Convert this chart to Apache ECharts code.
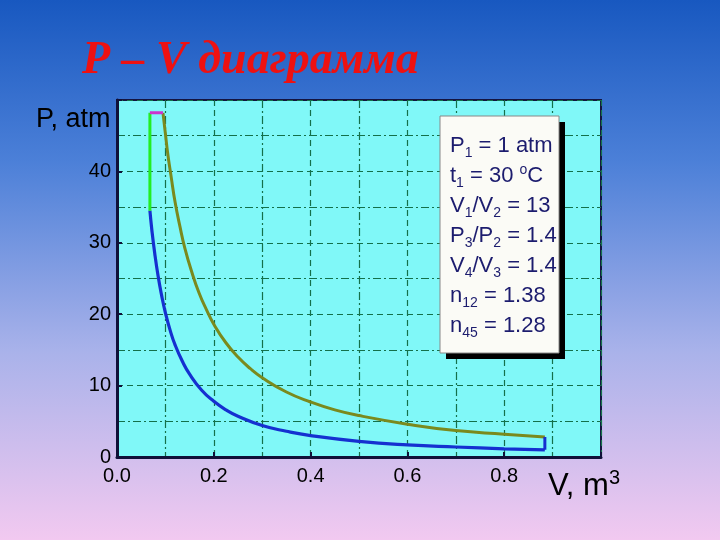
<!DOCTYPE html>
<html><head><meta charset="utf-8">
<script src="https://cdn.jsdelivr.net/npm/echarts@6/dist/echarts.min.js"></script>
<style>html,body{margin:0;padding:0;}#c{width:720px;height:540px;}</style>
</head><body><div id="c"></div>
<script>
// Data
const blueV = [0.884, 0.8, 0.7, 0.6, 0.5, 0.4, 0.35, 0.3, 0.25, 0.225, 0.2, 0.175, 0.15, 0.135, 0.12, 0.11, 0.1, 0.092, 0.085, 0.078, 0.072, 0.068];
const blueP = [1.0, 1.15, 1.4, 1.7, 2.2, 3.0, 3.6, 4.4, 5.7, 6.6, 7.8, 9.35, 11.6, 13.4, 15.7, 17.7, 20.2, 22.7, 25.3, 28.5, 31.8, 34.5];
const closeV = [0.884, 0.884];
const closeP = [2.8, 1.0];
const greenV = [0.068, 0.068];
const greenP = [34.5, 48.2];
const magentaV = [0.068, 0.095];
const magentaP = [48.2, 48.2];
const oliveV = [0.095, 0.1, 0.105, 0.112, 0.12, 0.13, 0.14, 0.155, 0.17, 0.185, 0.2, 0.225, 0.25, 0.275, 0.3, 0.35, 0.4, 0.45, 0.5, 0.6, 0.7, 0.8, 0.884];
const oliveP = [48.2, 45.3, 42.4, 39.2, 35.7, 32.3, 29.3, 25.8, 22.9, 20.6, 18.6, 16.0, 14.0, 12.4, 11.1, 9.1, 7.7, 6.6, 5.8, 4.6, 3.7, 3.2, 2.8];
const xTicks = ['0.0', '0.2', '0.4', '0.6', '0.8'];
const yTicks = ['0', '10', '20', '30', '40'];

const zip = (a, b) => a.map((v, i) => [v, b[i]]);
const chart = echarts.init(document.getElementById('c'));
const txt = '#1c1c6e';
const F = '"Liberation Sans", Arial, sans-serif';
const rich = {
  a: {fontSize: 22, fontFamily: F, fill: txt, lineHeight: 30, fontWeight: 'normal'},
  s: {fontSize: 14, fontFamily: F, fill: txt, lineHeight: 30, fontWeight: 'normal', padding: [14, 0, 0, 0]},
  u: {fontSize: 14, fontFamily: F, fill: txt, lineHeight: 30, fontWeight: 'normal', padding: [0, 0, 12, 0]}
};
const boxText = [
  '{a|P}{s|1}{a| = 1 atm}',
  '{a|t}{s|1}{a| = 30 }{u|o}{a|C}',
  '{a|V}{s|1}{a|/V}{s|2}{a| = 13}',
  '{a|P}{s|3}{a|/P}{s|2}{a| = 1.4}',
  '{a|V}{s|4}{a|/V}{s|3}{a| = 1.4}',
  '{a|n}{s|12}{a| = 1.38}',
  '{a|n}{s|45}{a| = 1.28}'
].join('\n');

const gridLine = {color: '#14704a', width: 1.2};
chart.setOption({
  animation: false,
  backgroundColor: {type: 'linear', x: 0, y: 0, x2: 0, y2: 1, colorStops: [
    {offset: 0, color: '#1858c0'}, {offset: 0.3, color: '#4c80d8'},
    {offset: 0.65, color: '#a9b2ea'}, {offset: 1, color: '#f2c9f0'}]},
  title: [{
    text: 'P – V диаграмма', left: 77, top: 33,
    textStyle: {color: '#ee1111', fontSize: 46, fontStyle: 'italic', fontWeight: 'bold', fontFamily: '"Liberation Serif", "Times New Roman", serif'}
  }],
  grid: {left: 117, right: 119, top: 100, bottom: 83, show: true, backgroundColor: '#80f8f8', borderColor: '#141440', borderWidth: 2},
  xAxis: {
    type: 'value', min: 0, max: 1, interval: 0.2,
    axisLine: {show: true, onZero: false, lineStyle: {color: '#101038', width: 3}},
    axisTick: {show: true, inside: true, length: 5, lineStyle: {color: '#101038', width: 2}},
    axisLabel: {color: '#000', fontSize: 20, fontFamily: F, margin: 9,
      formatter: (v) => xTicks[Math.round(v / 0.2)] || ''},
    splitLine: {show: true, lineStyle: Object.assign({type: [6, 4]}, gridLine)},
    minorTick: {show: true, splitNumber: 2, length: 0},
    minorSplitLine: {show: true, lineStyle: Object.assign({type: [8, 3, 2, 3]}, gridLine)}
  },
  yAxis: {
    type: 'value', min: 0, max: 50, interval: 10,
    axisLine: {show: true, onZero: false, lineStyle: {color: '#101038', width: 3}},
    axisTick: {show: true, inside: true, length: 5, lineStyle: {color: '#101038', width: 2}},
    axisLabel: {color: '#000', fontSize: 20, fontFamily: F, margin: 6,
      formatter: (v) => yTicks[Math.round(v / 10)] || ''},
    splitLine: {show: true, lineStyle: Object.assign({type: [6, 4]}, gridLine)},
    minorTick: {show: true, splitNumber: 2, length: 0},
    minorSplitLine: {show: true, lineStyle: Object.assign({type: [8, 3, 2, 3]}, gridLine)}
  },
  graphic: [
    {type: 'text', left: 36, top: 106, style: {text: 'P, atm', fontSize: 27, fontFamily: F, fill: '#000'}},
    {type: 'text', left: 548, top: 468, style: {text: '{b|V, m}{c|3}', rich: {
      b: {fontSize: 31, fontFamily: F, fill: '#000', lineHeight: 36},
      c: {fontSize: 20, fontFamily: F, fill: '#000', lineHeight: 36, padding: [0, 0, 16, 0]}}}},
    {type: 'rect', shape: {x: 446, y: 122, width: 119, height: 237}, style: {fill: '#000'}, z: 10},
    {type: 'rect', shape: {x: 440, y: 116, width: 119, height: 237}, style: {fill: '#fbfbf6', stroke: '#888', lineWidth: 1}, z: 11},
    {type: 'text', x: 450, y: 131, z: 12, style: {text: boxText, rich: rich, fill: txt}}
  ],
  series: [
    {type: 'line', data: zip(oliveV, oliveP), smooth: true, symbol: 'none', lineStyle: {color: '#7a8a1e', width: 3}},
    {type: 'line', data: zip(blueV, blueP), smooth: true, symbol: 'none', lineStyle: {color: '#1530d0', width: 3.2}},
    {type: 'line', data: zip(closeV, closeP), symbol: 'none', lineStyle: {color: '#1530d0', width: 3}},
    {type: 'line', data: zip(greenV, greenP), symbol: 'none', lineStyle: {color: '#22ee22', width: 3}},
    {type: 'line', data: zip(magentaV, magentaP), symbol: 'none', lineStyle: {color: '#cc33cc', width: 3}}
  ]
});
</script></body></html>
